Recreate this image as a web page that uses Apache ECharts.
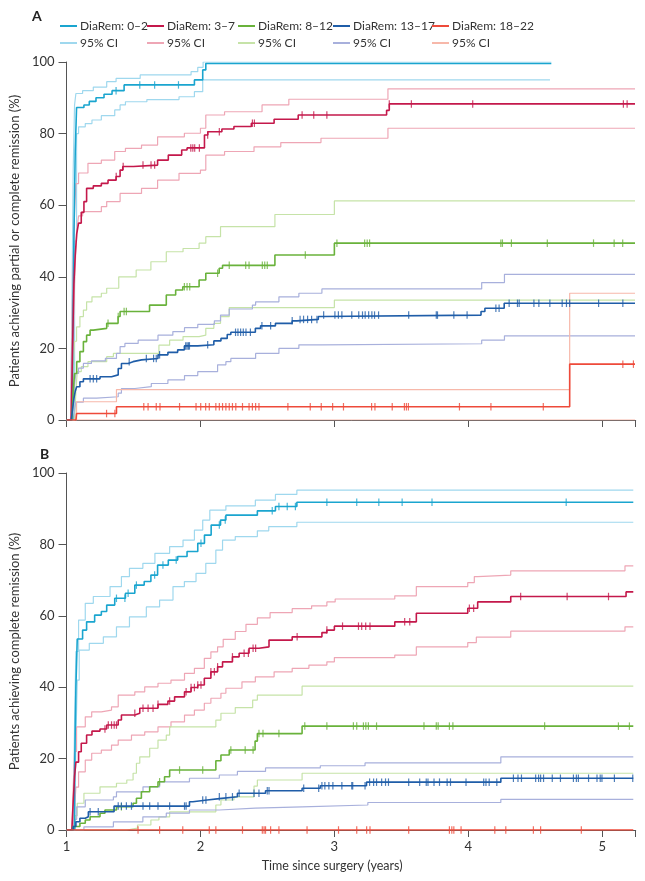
<!DOCTYPE html>
<html><head><meta charset="utf-8">
<script src="https://cdn.jsdelivr.net/npm/echarts@6/dist/echarts.min.js"></script>
<style>html,body{margin:0;padding:0;background:#fff}#c{width:645px;height:881px}</style>
</head><body><div id="c"></div>
<script>
const groups = ['DiaRem: 0–2','DiaRem: 3–7','DiaRem: 8–12','DiaRem: 13–17','DiaRem: 18–22'];
const ciLabel = '95% CI';
const xTicks = [1,2,3,4,5];
const yTicks = [0,20,40,60,80,100];

// ---------- Panel A: partial or complete remission ----------
const A_02 = [[1.0,0],[1.03,0],[1.045,20],[1.055,50],[1.065,75],[1.075,87.3],[1.13,88],[1.17,89],[1.22,90],[1.28,91],[1.34,92],[1.43,93.6],[1.955,95],[2.017,97.8],[2.04,99.6],[4.62,99.6]];
const A_02_hi = [[1.0,0],[1.03,0],[1.04,30],[1.05,70],[1.06,88],[1.07,91.2],[1.12,92],[1.2,93],[1.3,94.5],[1.37,95.4],[1.55,96.4],[1.93,97.3],[1.98,98.5],[2.02,100],[4.62,100]];
const A_02_lo = [[1.0,0],[1.04,0],[1.06,50],[1.075,80],[1.09,81.9],[1.14,82.8],[1.19,83.8],[1.26,85],[1.36,86.6],[1.4,88],[1.44,88.9],[1.6,89.5],[1.84,90.3],[1.955,91.7],[2.017,95],[4.61,95]];
const A_02_cens = [1.37,1.547,1.658,1.836];

const A_37 = [[1.0,0],[1.035,0],[1.045,20],[1.055,38],[1.065,46],[1.076,52],[1.09,55],[1.11,58],[1.13,61],[1.15,64.7],[1.2,65.4],[1.26,66.1],[1.31,67],[1.37,68],[1.40,69.8],[1.42,70.8],[1.5,71.2],[1.68,72.6],[1.76,74],[1.86,75.4],[1.9,76],[2.03,79.6],[2.055,80.5],[2.16,81.3],[2.25,82],[2.38,82.9],[2.55,84],[2.73,85.2],[3.39,86.5],[3.41,88.3],[5.245,88.3]];
const A_37_hi = [[1.0,0],[1.03,0],[1.04,25],[1.05,45],[1.06,58],[1.07,66],[1.09,69],[1.16,71.7],[1.26,72.6],[1.36,75],[1.44,75.9],[1.56,76.8],[1.68,79.1],[1.88,80.1],[2.0,81.5],[2.04,85.2],[2.18,86.1],[2.46,88],[2.66,89.6],[3.4,92.5],[5.245,92.5]];
const A_37_lo = [[1.0,0],[1.04,0],[1.05,20],[1.06,38],[1.07,48],[1.08,54],[1.09,57],[1.12,58.2],[1.26,59.6],[1.3,61],[1.4,63.3],[1.56,64.7],[1.68,67],[1.84,68.9],[2.0,69.8],[2.04,74],[2.18,75],[2.4,76.3],[2.6,77.5],[2.9,78.7],[3.4,81.5],[5.245,81.5]];
const A_37_cens = [1.371,1.423,1.571,1.631,1.658,1.928,1.943,1.957,1.992,2.054,2.141,2.388,2.403,2.759,2.846,2.944,3.41,3.575,4.033,5.158,5.186];

const A_812 = [[1.0,0],[1.04,0],[1.05,8],[1.06,13],[1.076,16.3],[1.10,19.1],[1.126,21.9],[1.15,23.7],[1.176,25.1],[1.2,25.6],[1.3,27],[1.385,28.9],[1.40,30.3],[1.62,32.1],[1.745,34.9],[1.815,36.3],[1.868,37.2],[1.99,39.1],[2.04,41],[2.14,42.4],[2.165,43.2],[2.556,46.1],[3.0,49.4],[5.245,49.4]];
const A_812_hi = [[1.0,0],[1.04,0],[1.05,15],[1.06,22],[1.075,26],[1.10,28.9],[1.126,30.7],[1.15,33],[1.19,34.4],[1.26,35.4],[1.3,36.8],[1.39,40],[1.52,41.9],[1.63,44.2],[1.745,47],[1.87,47.9],[1.99,49.4],[2.04,51.2],[2.15,54],[2.556,57.4],[3.0,61.2],[5.245,61.2]];
const A_812_lo = [[1.0,0],[1.06,0],[1.07,8],[1.08,13.5],[1.11,14.9],[1.16,16.3],[1.3,17.7],[1.35,18.6],[1.69,20.9],[1.77,22.3],[1.87,23.3],[1.99,23.7],[2.04,25.6],[2.1,27],[2.15,28.9],[2.215,31.4],[3.0,33.5],[5.245,33.5]];
const A_812_cens = [1.31,1.386,1.43,1.447,1.88,1.9,1.92,2.128,2.215,2.338,2.363,2.462,2.48,2.499,2.783,3.019,3.226,3.245,3.263,4.243,4.255,4.322,4.59,4.935,5.089,5.153];

const A_1317 = [[1.0,0],[1.035,0],[1.045,3],[1.055,6],[1.065,8],[1.076,9.3],[1.10,10.7],[1.126,11.5],[1.25,12.1],[1.336,12.6],[1.386,14.4],[1.41,15.8],[1.46,16.3],[1.497,16.8],[1.56,17.2],[1.683,18.2],[1.757,18.9],[1.83,19.6],[1.88,20.7],[1.98,21],[2.1,22.1],[2.153,22.8],[2.2,23.9],[2.227,24.5],[2.41,25.6],[2.449,26.3],[2.56,27],[2.685,27.7],[2.72,28.1],[2.88,28.9],[2.907,29.3],[4.095,30.3],[4.124,31.2],[4.268,32.6],[5.245,32.6]];
const A_1317_hi = [[1.0,0],[1.04,0],[1.05,6],[1.06,10],[1.07,13],[1.09,14.5],[1.126,15.8],[1.186,16.5],[1.29,17.2],[1.373,18.6],[1.4,20.5],[1.436,21.4],[1.535,22.3],[1.683,23.7],[1.794,24.7],[1.881,25.8],[1.98,26.7],[2.104,27.7],[2.15,29.3],[2.215,31],[2.388,32.1],[2.412,33],[2.586,34.4],[2.735,35.4],[2.907,36.6],[4.1,38.4],[4.27,40.7],[5.245,40.7]];
const A_1317_lo = [[1.0,0],[1.05,0],[1.06,3],[1.07,5],[1.126,6.1],[1.225,6.5],[1.386,7.5],[1.41,8.8],[1.51,9.3],[1.633,10.2],[1.757,11.2],[1.881,12.4],[1.98,13.5],[2.128,15.4],[2.19,16.3],[2.227,17.2],[2.412,18.6],[2.586,20],[2.735,21],[2.907,21.3],[4.1,22.3],[4.27,23.5],[5.245,23.5]];
const A_1317_cens = [1.176,1.2,1.225,1.468,1.596,1.65,1.67,1.695,1.89,1.9,1.91,1.918,2.054,2.262,2.28,2.3,2.32,2.34,2.373,2.459,2.524,2.685,2.744,2.77,2.8,2.83,2.87,2.92,3.004,3.03,3.056,3.13,3.182,3.21,3.23,3.256,3.28,3.3,3.33,3.555,3.761,3.77,3.892,3.991,4.206,4.23,4.305,4.367,4.38,4.49,4.527,4.609,4.701,4.733,4.757,4.973,5.154];

const A_1822 = [[1.0,0],[1.07,0],[1.075,1.8],[1.373,3.7],[4.757,15.6],[5.245,15.6]];
const A_1822_hi = [[1.0,0],[1.06,0],[1.075,5.1],[1.373,8.5],[4.757,35.4],[5.245,35.4]];
const A_1822_lo = [[1.0,0],[5.245,0]];
const A_1822_cens = [1.299,1.361,1.577,1.609,1.67,1.698,1.844,1.967,2.002,2.039,2.066,2.115,2.141,2.165,2.19,2.215,2.239,2.264,2.314,2.363,2.388,2.412,2.437,2.653,2.82,2.902,2.987,3.068,3.278,3.303,3.432,3.523,3.538,3.553,3.934,4.169,4.56,5.154,5.233];

// ---------- Panel B: complete remission ----------
const B_02 = [[1.0,0],[1.04,0],[1.06,15],[1.07,40],[1.08,53.5],[1.12,56],[1.15,58.3],[1.21,60.2],[1.26,61.2],[1.3,63],[1.36,64.9],[1.44,66.3],[1.51,68.6],[1.58,69.6],[1.63,71.4],[1.68,74.2],[1.76,75.6],[1.83,76.6],[1.9,78],[1.98,80.3],[2.03,82.6],[2.08,85.4],[2.15,86.8],[2.19,88.2],[2.425,89.4],[2.56,90.6],[2.72,91.8],[5.232,91.8]];
const B_02_hi = [[1.0,0],[1.05,0],[1.06,30],[1.07,50],[1.09,58.8],[1.14,63.5],[1.2,65.4],[1.325,68.2],[1.41,71],[1.47,73.3],[1.57,74.7],[1.66,77.5],[1.77,79.4],[1.87,81.2],[1.955,84],[2.017,86.8],[2.07,89.6],[2.19,90.8],[2.41,92.4],[2.56,94],[2.72,95.2],[5.232,95.2]];
const B_02_lo = [[1.0,0],[1.06,0],[1.07,25],[1.08,42],[1.095,50.4],[1.17,52.3],[1.275,54.1],[1.373,56.9],[1.47,59.7],[1.596,62.5],[1.695,64.4],[1.795,68.2],[1.88,69.6],[1.967,71.9],[2.04,74.7],[2.115,78.4],[2.165,81.2],[2.26,82.2],[2.425,83.8],[2.51,85],[2.72,86.2],[5.232,86.2]];
const B_02_cens = [1.373,1.436,1.46,1.522,1.658,1.72,1.819,2.004,2.141,2.185,2.536,2.586,2.648,2.709,2.944,3.167,3.332,3.506,3.729,4.731];

const B_37 = [[1.0,0],[1.04,0],[1.05,8],[1.06,15],[1.07,19],[1.09,21.9],[1.11,24.3],[1.15,26.6],[1.19,27.7],[1.25,28.3],[1.3,29.4],[1.386,30.8],[1.41,32.2],[1.51,32.7],[1.547,34.1],[1.683,35.2],[1.757,36.1],[1.807,37.3],[1.881,38.7],[1.93,39.9],[1.98,40.6],[2.029,42.5],[2.078,44.3],[2.128,45.7],[2.165,47.1],[2.239,48.5],[2.289,49.5],[2.363,50.9],[2.437,51.3],[2.512,53.2],[2.685,54.1],[2.907,55.3],[2.944,56],[3.0,57.1],[3.451,58.3],[3.612,60.7],[3.996,62.1],[4.07,63.9],[4.317,65.4],[5.178,66.7],[5.232,66.7]];
const B_37_hi = [[1.0,0],[1.04,0],[1.05,12],[1.06,22],[1.075,28.9],[1.14,31.7],[1.188,33.1],[1.26,33.6],[1.336,34.5],[1.386,37.8],[1.51,38.7],[1.584,40.1],[1.683,41.1],[1.78,42],[1.881,43.9],[1.955,45.3],[2.029,48.1],[2.078,49.9],[2.128,51.3],[2.17,53.4],[2.26,55.6],[2.34,57.6],[2.425,59.4],[2.52,60.9],[2.685,62],[2.83,62.8],[2.944,63.9],[3.006,64.7],[3.451,65.6],[3.612,68.2],[3.996,69.3],[4.045,71],[4.07,71.4],[4.317,72.6],[5.17,74],[5.232,74]];
const B_37_lo = [[1.0,0],[1.05,0],[1.06,6],[1.07,12],[1.09,16.3],[1.14,19.6],[1.188,21.5],[1.26,22.4],[1.336,23.8],[1.386,25.2],[1.485,26.6],[1.584,27.5],[1.683,28.9],[1.78,30.3],[1.881,32.2],[1.955,33.6],[2.029,35.5],[2.078,36.9],[2.153,38.3],[2.19,39.7],[2.31,41.5],[2.41,42.9],[2.55,44.3],[2.685,45.3],[2.81,46.2],[2.944,47.1],[3.0,48.3],[3.451,49],[3.612,51.3],[3.996,52.5],[4.06,54],[4.317,55.7],[5.17,56.9],[5.232,56.9]];
const B_37_cens = [1.287,1.312,1.336,1.356,1.373,1.51,1.571,1.609,1.646,1.683,1.77,1.893,1.93,1.955,1.98,2.004,2.078,2.104,2.128,2.239,2.326,2.358,2.393,2.412,2.722,2.944,3.061,3.18,3.204,3.234,3.266,3.525,3.563,4.008,4.04,4.391,4.738,5.047];

const B_812 = [[1.0,0],[1.03,0],[1.05,1],[1.1,1.9],[1.14,2.8],[1.176,3.7],[1.25,4.7],[1.287,5.6],[1.373,6.5],[1.497,7.5],[1.522,8.9],[1.559,10.7],[1.621,12.1],[1.683,13.5],[1.732,14.9],[1.77,16.8],[2.115,19.4],[2.153,21],[2.215,22.4],[2.408,24.9],[2.425,27],[2.759,29.1],[5.232,29.1]];
const B_812_hi = [[1.0,0],[1.05,0],[1.065,4],[1.08,7.5],[1.13,10.3],[1.25,12.1],[1.373,13.1],[1.45,14],[1.497,15.9],[1.522,18.7],[1.547,20.5],[1.621,22.9],[1.683,25.2],[1.745,26.6],[1.77,28.9],[2.115,30.8],[2.153,32.7],[2.26,34.3],[2.39,36.4],[2.425,37.8],[2.759,40.3],[5.232,40.3]];
const B_812_lo = [[1.0,0],[1.45,0],[1.46,0.5],[1.53,1.4],[1.63,2.8],[1.69,3.7],[1.77,5.1],[2.115,7],[2.153,8.4],[2.25,9.3],[2.4,12.3],[2.425,14],[2.759,15.9],[5.232,15.9]];
const B_812_cens = [1.41,1.695,1.844,2.017,2.227,2.334,2.393,2.437,2.467,2.586,2.779,2.944,3.142,3.167,3.217,3.235,3.254,3.315,3.669,3.761,3.775,3.859,3.885,4.57,5.121,5.203];

const B_1317 = [[1.0,0],[1.035,0],[1.05,1],[1.07,2.3],[1.10,3.3],[1.14,3.7],[1.163,5.1],[1.355,6.7],[1.918,7.9],[1.943,8.4],[2.05,8.8],[2.141,9.3],[2.276,10.3],[2.486,11],[2.759,11.7],[2.895,12.4],[3.24,13.4],[4.243,14.5],[5.232,14.5]];
const B_1317_hi = [[1.0,0],[1.045,0],[1.06,3],[1.076,6.5],[1.14,8.4],[1.35,9.3],[1.373,10.7],[1.571,12.1],[1.695,13.5],[1.918,14.5],[2.141,15.4],[2.276,16.4],[2.486,17.4],[2.895,18],[3.229,18.8],[4.243,20.5],[5.232,20.5]];
const B_1317_lo = [[1.0,0],[1.05,0],[1.13,0.9],[1.35,2.3],[1.57,3.7],[1.745,4.7],[1.918,5.6],[2.141,6.1],[2.41,6.5],[2.759,7],[3.25,7.7],[4.243,8.6],[5.232,8.6]];
const B_1317_cens = [1.176,1.237,1.386,1.41,1.447,1.485,1.571,1.621,1.683,1.77,1.881,1.893,2.017,2.041,2.141,2.19,2.239,2.289,2.4,2.437,2.499,2.512,2.771,2.883,2.907,2.929,2.959,2.989,3.056,3.13,3.137,3.229,3.263,3.293,3.315,3.353,3.382,3.404,3.555,3.637,3.686,3.699,3.744,3.785,3.842,3.867,3.983,4.115,4.132,4.156,4.213,4.337,4.371,4.397,4.503,4.525,4.54,4.562,4.627,4.688,4.785,4.807,4.822,4.898,4.961,4.985,4.998,5.091,5.228];

const B_1822 = [[1.0,0],[5.232,0]];
const B_1822_cens = [1.534,1.695,1.868,2.066,2.115,2.314,2.462,2.475,2.486,2.524,2.586,2.796,3.031,3.167,3.241,3.266,3.555,3.859,3.877,3.892,3.946,4.198,4.28,4.486,4.54,4.844];

// ---------- styling ----------
const mainColors = ['#1aa5cf','#c4184b','#69b23b','#1f5da8','#ee4a3a'];
const ciColors   = ['#9fd8ee','#eea6b5','#c6e3a8','#a8b0dc','#f7b8aa'];
const FONT = 'Lato';
const NARROW = '"Liberation Sans Narrow", Lato';

const panels = [
  {grid:0, sets:[
    {main:A_02, hi:A_02_hi, lo:A_02_lo, cens:A_02_cens},
    {main:A_37, hi:A_37_hi, lo:A_37_lo, cens:A_37_cens},
    {main:A_812, hi:A_812_hi, lo:A_812_lo, cens:A_812_cens},
    {main:A_1317, hi:A_1317_hi, lo:A_1317_lo, cens:A_1317_cens},
    {main:A_1822, hi:A_1822_hi, lo:A_1822_lo, cens:A_1822_cens}]},
  {grid:1, sets:[
    {main:B_02, hi:B_02_hi, lo:B_02_lo, cens:B_02_cens},
    {main:B_37, hi:B_37_hi, lo:B_37_lo, cens:B_37_cens},
    {main:B_812, hi:B_812_hi, lo:B_812_lo, cens:B_812_cens},
    {main:B_1317, hi:B_1317_hi, lo:B_1317_lo, cens:B_1317_cens},
    {main:B_1822, hi:null, lo:null, cens:B_1822_cens}]}
];

function stepAt(curve, t){
  let v = curve[0][1];
  for (const p of curve){ if (p[0] <= t + 1e-9) v = p[1]; else break; }
  return v;
}
const ciName = i => ciLabel + '\u200b'.repeat(i+1);

const series = [];
panels.forEach(P => {
  P.sets.forEach((s, i) => {
    [s.hi, s.lo].forEach(ci => {
      if (!ci) return;
      series.push({type:'line', name:ciName(i), xAxisIndex:P.grid, yAxisIndex:P.grid,
        data:ci, step:'end', showSymbol:false, symbol:'none', color:ciColors[i],
        lineStyle:{color:ciColors[i], width:1.2}, z:2, silent:true});
    });
  });
  P.sets.forEach((s, i) => {
    series.push({type:'line', name:groups[i], xAxisIndex:P.grid, yAxisIndex:P.grid,
      data:s.main, step:'end', showSymbol:false, symbol:'none', color:mainColors[i],
      lineStyle:{color:mainColors[i], width:1.6}, z:4, silent:true});
    series.push({type:'scatter', name:groups[i], xAxisIndex:P.grid, yAxisIndex:P.grid,
      data:s.cens.map(t => [t, stepAt(s.main, t)]), symbol:'rect', symbolSize:[1.2,7.5],
      color:mainColors[i], itemStyle:{color:mainColors[i]}, z:5, silent:true});
  });
});

const legendX = [60,147,238,333,432];
const legends = [];
groups.forEach((g,i) => {
  legends.push({left:legendX[i], top:20, padding:0, itemGap:0, selectedMode:false,
    icon:'rect', itemWidth:17, itemHeight:2, data:[g],
    textStyle:{fontFamily:NARROW, fontSize:12, color:'#333', padding:[0,0,0,-2]}});
  legends.push({left:legendX[i], top:37, padding:0, itemGap:0, selectedMode:false,
    icon:'rect', itemWidth:17, itemHeight:2, data:[ciName(i)],
    formatter: n => n.replace(/\u200b/g,''),
    textStyle:{fontFamily:NARROW, fontSize:12, color:'#333', padding:[0,0,0,-2]}});
});

const axisLineStyle = {color:'#555', width:1};
function xAx(idx, showLabels){
  return {type:'value', gridIndex:idx, min:1, max:5.25, interval:1,
    axisLine:{show:true, lineStyle:axisLineStyle},
    axisTick:{show:true, length:7, lineStyle:axisLineStyle},
    splitLine:{show:false},
    axisLabel:{show:showLabels, fontFamily:FONT, fontSize:13, color:'#333', margin:10,
      formatter: v => xTicks.includes(v) ? String(v) : ''},
    name: showLabels ? 'Time since surgery (years)' : '',
    nameLocation:'middle', nameGap:29,
    nameTextStyle:{fontFamily:FONT, fontSize:12.5, color:'#333', padding:[0,38,0,0]}};
}
function yAx(idx, name){
  return {type:'value', gridIndex:idx, min:0, max:100, interval:20,
    axisLine:{show:true, lineStyle:axisLineStyle},
    axisTick:{show:true, length:8, lineStyle:axisLineStyle},
    splitLine:{show:false},
    axisLabel:{fontFamily:FONT, fontSize:13, color:'#333', margin:12,
      formatter: v => yTicks.includes(v) ? String(v) : ''},
    name:name, nameLocation:'middle', nameGap:37,
    nameTextStyle:{fontFamily:FONT, fontSize:13, color:'#333'}};
}

const chart = echarts.init(document.getElementById('c'), null, {renderer:'canvas'});
chart.setOption({
  animation:false,
  backgroundColor:'#fff',
  title:[
    {text:'A', left:32, top:9, padding:0, textStyle:{fontFamily:FONT, fontSize:14, fontWeight:'bold', color:'#222'}},
    {text:'B', left:40, top:447, padding:0, textStyle:{fontFamily:FONT, fontSize:14, fontWeight:'bold', color:'#222'}}
  ],
  legend:legends,
  grid:[
    {left:63, top:62, width:572.7, height:358},
    {left:63, top:473, width:572.7, height:357}
  ],
  xAxis:[xAx(0,false), xAx(1,true)],
  yAxis:[yAx(0,'Patients achieving partial or complete remission (%)'), yAx(1,'Patients achieving complete remission (%)')],
  series:series
});
</script>
</body></html>
